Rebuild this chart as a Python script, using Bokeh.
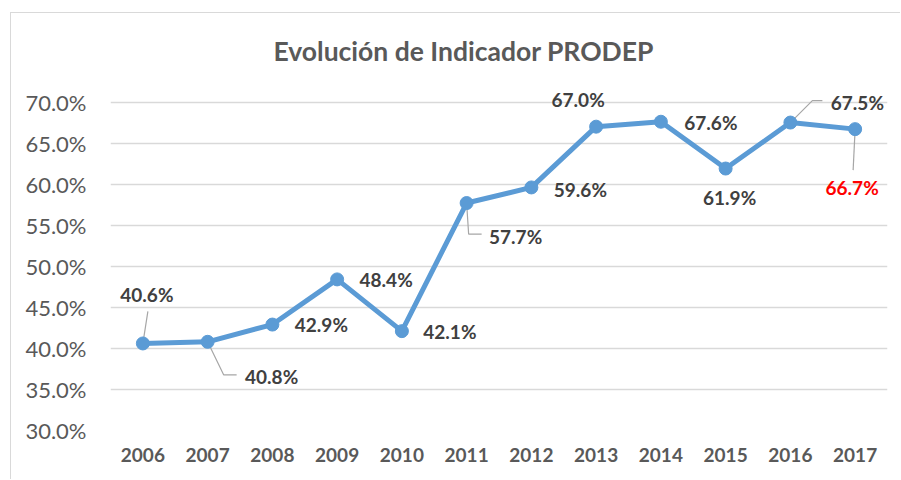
from bokeh.plotting import figure
from bokeh.models import ColumnDataSource, FixedTicker
from bokeh.core.properties import value
from bokeh.embed import file_html
from bokeh.resources import INLINE

years = ["2006", "2007", "2008", "2009", "2010", "2011", "2012", "2013", "2014", "2015", "2016", "2017"]
values = [40.6, 40.8, 42.9, 48.4, 42.1, 57.7, 59.6, 67.0, 67.6, 61.9, 67.5, 66.7]
y_ticks = [30, 35, 40, 45, 50, 55, 60, 65, 70]
title_text = "Evolución de Indicador PRODEP"

# label placement (pixels, style only)
lab_dx = [4, 64, 49, 49, 48, 49, 49, -18, 50, 4, 67, -3]
lab_dy = [49, -35, 0, 0, 0, -33, -2, 27, -1, -29, 20, -58]  # positive = up
lab_col = ["#404040"] * 11 + ["#FF0000"]
# leader lines: (index, pixel vertices relative to the point; positive dy = up)
leaders = [
    (0, [(5, 32)]),
    (1, [(16, -33), (29, -33)]),
    (5, [(2, -31), (15, -31)]),
    (10, [(22, 22), (32, 22)]),
    (11, [(-2, -41)]),
]

W, H = 890, 467
FL, FR, FT, FB = 99, 14, 68, 50
frame_w = W - FL - FR
frame_h = H - FT - FB
x0, x1 = -0.5, len(years) - 0.5
y0, y1 = 30, 72.5
px_x = frame_w / (x1 - x0)
px_y = frame_h / (y1 - y0)

idx = list(range(len(years)))
src = ColumnDataSource(dict(
    x=idx, y=values,
    lab=[f"{v:.1f}%" for v in values],
    xo=lab_dx, yo=[-d for d in lab_dy], col=lab_col,
))

p = figure(width=W, height=H, output_backend="svg", toolbar_location=None,
           x_range=(x0, x1), y_range=(y0, y1),
           min_border_left=FL, min_border_right=FR, min_border_top=FT, min_border_bottom=FB,
           title=title_text)
p.outline_line_color = None
p.background_fill_color = "white"
p.border_fill_color = "white"
p.margin = (12, 0, 0, 10)
p.styles = {"border-left": "1px solid #d9d9d9", "border-top": "1px solid #d9d9d9"}

p.title.align = "left"
p.title.offset = 163
p.title.text_font = "Lato"
p.title.text_font_size = "26.5px"
p.title.text_font_style = "bold"
p.title.text_color = "#595959"
p.title.standoff = 30

p.xgrid.grid_line_color = None
p.ygrid.grid_line_color = "#d9d9d9"
p.ygrid.grid_line_width = 1.5
p.ygrid.ticker = FixedTicker(ticks=y_ticks)

p.yaxis.ticker = FixedTicker(ticks=y_ticks)
p.yaxis.major_label_overrides = {t: f"{t:.1f}%" for t in y_ticks}
p.xaxis.ticker = FixedTicker(ticks=idx)
p.xaxis.major_label_overrides = {i: y for i, y in enumerate(years)}
for ax in (p.xaxis, p.yaxis):
    ax.axis_line_color = None
    ax.major_tick_line_color = None
    ax.minor_tick_line_color = None
    ax.major_label_text_color = "#595959"
    ax.major_label_text_font = "Lato"
p.yaxis.major_label_text_font_size = "22px"
p.yaxis.major_label_standoff = 18
p.xaxis.major_label_text_font_size = "19px"
p.xaxis.major_label_text_font_style = "bold"
p.xaxis.major_label_standoff = 11

# leader lines
lx, ly = [], []
for i, verts in leaders:
    xs = [idx[i]] + [idx[i] + dx / px_x for dx, dy in verts]
    ys = [values[i]] + [values[i] + dy / px_y for dx, dy in verts]
    lx.append(xs)
    ly.append(ys)
p.multi_line(lx, ly, line_color="#a6a6a6", line_width=1.2)

p.line("x", "y", source=src, line_color="#5B9BD5", line_width=5, line_join="round")
p.scatter("x", "y", source=src, size=13, fill_color="#5B9BD5", line_color="#5B9BD5")

p.text("x", "y", text="lab", source=src, x_offset="xo", y_offset="yo",
       text_color="col", text_font=value("Lato"), text_font_size="19px",
       text_font_style="bold", text_align="center", text_baseline="middle")

open("out.html", "w").write(file_html(p, INLINE))
